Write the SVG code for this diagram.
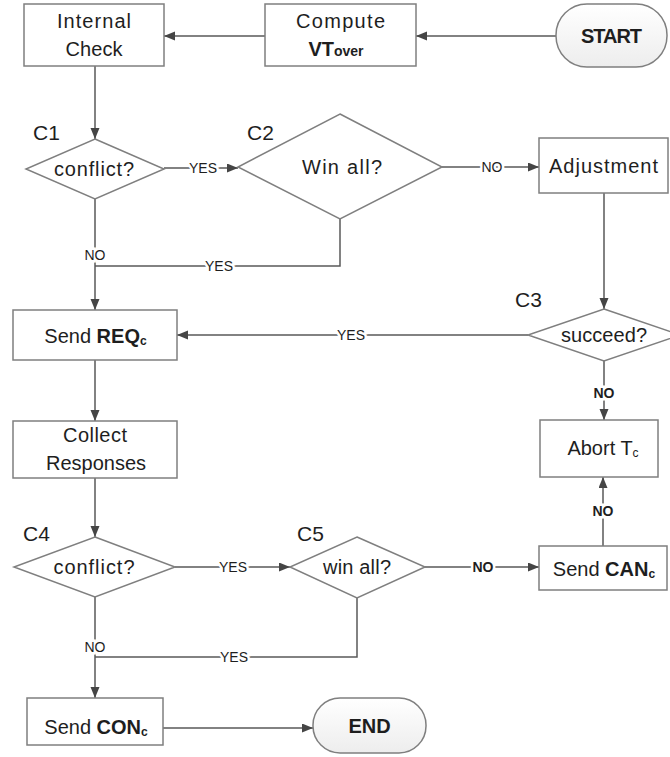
<svg xmlns="http://www.w3.org/2000/svg" width="670" height="757" viewBox="0 0 670 757">
  <style>
    text { font-family: "Liberation Sans", Arial, sans-serif; fill: #1e1e1e; }
    .box { fill: #ffffff; stroke: #7f7f7f; stroke-width: 1.5; }
    .pill { fill: url(#pillFill); stroke: #7f7f7f; stroke-width: 1.5; }
    .dia { fill: #ffffff; stroke: #7f7f7f; stroke-width: 1.5; }
    .t { font-size: 20px; text-anchor: middle; }
    .tb { font-size: 20px; text-anchor: middle; font-weight: bold; }
    .cid { font-size: 21px; }
    .lbl { font-size: 14px; text-anchor: middle; stroke: #ffffff; stroke-width: 5; paint-order: stroke; }
    .lblb { font-size: 14px; text-anchor: middle; font-weight: bold; stroke: #ffffff; stroke-width: 5; paint-order: stroke; }
    .edge { fill: none; stroke: #595959; stroke-width: 1.5; }
    .arrow { marker-end: url(#head); }
  </style>
  <defs>
    <linearGradient id="pillFill" x1="0" y1="0" x2="0" y2="1">
      <stop offset="0" stop-color="#ffffff"/>
      <stop offset="1" stop-color="#ededed"/>
    </linearGradient>
    <marker id="head" markerUnits="userSpaceOnUse" markerWidth="12" markerHeight="10" refX="11" refY="4.5" orient="auto">
      <path d="M0,0 L11,4.5 L0,9 z" fill="#454545"/>
    </marker>
  </defs>

  <!-- connectors -->
  <g id="connectors">
    <path class="edge arrow" d="M556,36 L416,36"/>
    <path class="edge arrow" d="M265,36 L164,36"/>
    <path class="edge arrow" d="M95,66 L95,139"/>
    <path class="edge arrow" d="M164,168 L238,168"/>
    <path class="edge arrow" d="M442,167 L539,167"/>
    <path class="edge arrow" d="M95,199 L95,310"/>
    <path class="edge" d="M340,219 L340,266 L95,266"/>
    <path class="edge arrow" d="M604,193 L604,309"/>
    <path class="edge arrow" d="M528,335 L177,335"/>
    <path class="edge arrow" d="M604,361 L604,420"/>
    <path class="edge arrow" d="M95,360 L95,421"/>
    <path class="edge arrow" d="M95,478 L95,537"/>
    <path class="edge arrow" d="M175,567 L290,567"/>
    <path class="edge arrow" d="M425,567 L539,567"/>
    <path class="edge arrow" d="M603,546 L603,477"/>
    <path class="edge arrow" d="M95,597 L95,698"/>
    <path class="edge" d="M357,598 L357,657 L95,657"/>
    <path class="edge arrow" d="M163,728 L313,728"/>

    <text class="lbl" x="203" y="173">YES</text>
    <text class="lbl" x="492" y="172">NO</text>
    <text class="lbl" x="95" y="260">NO</text>
    <text class="lbl" x="219" y="271">YES</text>
    <text class="lbl" x="351" y="340">YES</text>
    <text class="lblb" x="604" y="398">NO</text>
    <text class="lbl" x="233" y="572">YES</text>
    <text class="lblb" x="483" y="572">NO</text>
    <text class="lblb" x="603" y="516" font-size="11">NO</text>
    <text class="lbl" x="95" y="652">NO</text>
    <text class="lbl" x="234" y="662">YES</text>
  </g>

  <!-- terminals and process boxes -->
  <g id="start">
    <rect class="pill" x="556" y="4" width="111" height="63" rx="31" ry="31"/>
    <text class="tb" x="611.5" y="43" textLength="61">START</text>
  </g>
  <g id="compute">
    <rect class="box" x="265" y="4" width="151" height="62"/>
    <text class="t" x="340.5" y="28" textLength="89">Compute</text>
    <text class="tb" x="336" y="56"><tspan>VT</tspan><tspan font-size="14">over</tspan></text>
  </g>
  <g id="internal-check">
    <rect class="box" x="24" y="4" width="140" height="62"/>
    <text class="t" x="94" y="28" textLength="74">Internal</text>
    <text class="t" x="94" y="56" textLength="57">Check</text>
  </g>

  <!-- C1 -->
  <g id="c1">
    <text class="cid" x="33" y="140">C1</text>
    <polygon class="dia" points="95,139 164,169 95,199 26,169"/>
    <text class="t" x="94" y="176" textLength="80">conflict?</text>
  </g>
  <!-- C2 -->
  <g id="c2">
    <text class="cid" x="247" y="140">C2</text>
    <polygon class="dia" points="340,114 442,167 340,219 238,167"/>
    <text class="t" x="342" y="174" textLength="80">Win all?</text>
  </g>
  <g id="adjustment">
    <rect class="box" x="539" y="138" width="129" height="55"/>
    <text class="t" x="603.5" y="173" textLength="109">Adjustment</text>
  </g>
  <!-- C3 -->
  <g id="c3">
    <text class="cid" x="515" y="307">C3</text>
    <polygon class="dia" points="604,309 680,335 604,361 528,335"/>
    <text class="t" x="604" y="342" textLength="86">succeed?</text>
  </g>
  <g id="send-req">
    <rect class="box" x="13" y="310" width="164" height="50"/>
    <text class="t" x="95.5" y="343">Send <tspan font-weight="bold">REQ</tspan><tspan font-weight="bold" font-size="12" dy="2">c</tspan></text>
  </g>
  <g id="collect">
    <rect class="box" x="13" y="421" width="164" height="57"/>
    <text class="t" x="95" y="442" textLength="64">Collect</text>
    <text class="t" x="96" y="470" textLength="100">Responses</text>
  </g>
  <g id="abort">
    <rect class="box" x="540" y="420" width="118" height="57"/>
    <text class="t" x="603" y="455">Abort T<tspan font-size="12" dy="2">c</tspan></text>
  </g>
  <!-- C4 -->
  <g id="c4">
    <text class="cid" x="23" y="541">C4</text>
    <polygon class="dia" points="95,537 175,567 95,597 14,567"/>
    <text class="t" x="94" y="574" textLength="81">conflict?</text>
  </g>
  <!-- C5 -->
  <g id="c5">
    <text class="cid" x="297" y="541">C5</text>
    <polygon class="dia" points="357,537 425,567 357,598 290,567"/>
    <text class="t" x="357" y="574" textLength="68">win all?</text>
  </g>
  <g id="send-can">
    <rect class="box" x="539" y="546" width="128" height="44"/>
    <text class="t" x="604" y="576">Send <tspan font-weight="bold">CAN</tspan><tspan font-weight="bold" font-size="12" dy="2">c</tspan></text>
  </g>
  <g id="send-con">
    <rect class="box" x="27" y="698" width="136" height="47"/>
    <text class="t" x="96" y="734">Send <tspan font-weight="bold">CON</tspan><tspan font-weight="bold" font-size="12" dy="2">c</tspan></text>
  </g>
  <g id="end">
    <rect class="pill" x="313" y="698" width="113" height="55" rx="27" ry="27"/>
    <text class="tb" x="369.5" y="733">END</text>
  </g>
</svg>
